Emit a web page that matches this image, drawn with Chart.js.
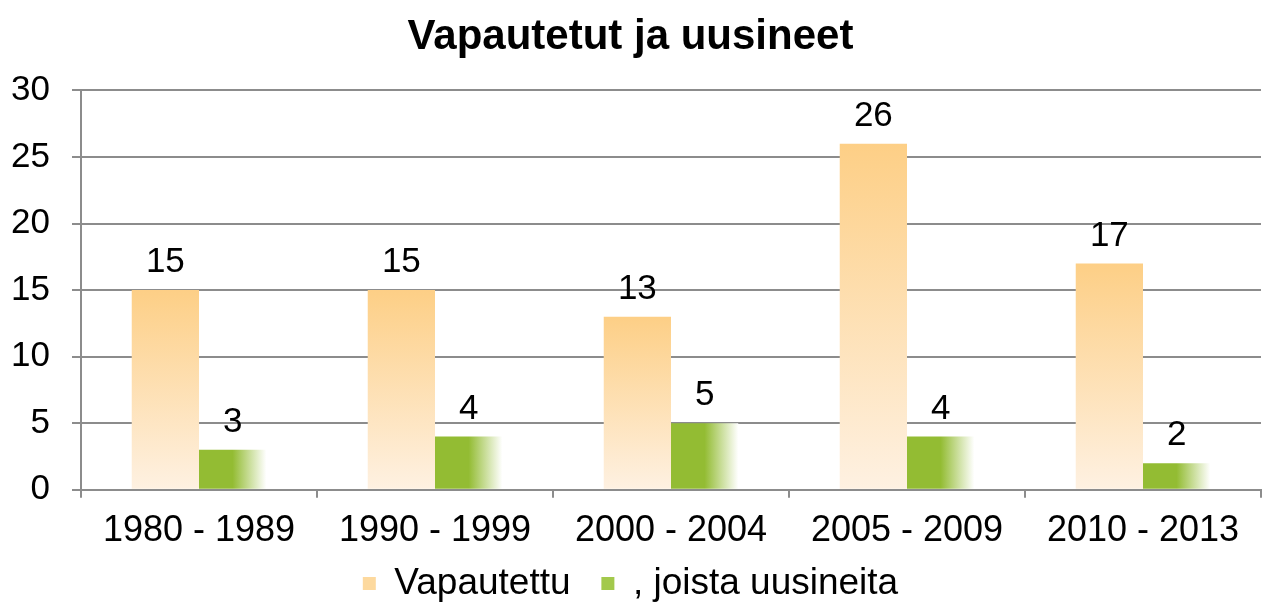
<!DOCTYPE html>
<html>
<head>
<meta charset="utf-8">
<script src="https://cdn.jsdelivr.net/npm/chart.js@4/dist/chart.umd.min.js"></script>
<style>
  html, body { margin: 0; padding: 0; background: #fff; }
  #wrap { width: 1267px; height: 606px; }
</style>
</head>
<body>
<div id="wrap"><canvas id="chart"></canvas></div>
<script>
// Data
const categories = ['1980 - 1989', '1990 - 1999', '2000 - 2004', '2005 - 2009', '2010 - 2013'];
const vapautettu = [15, 15, 13, 26, 17];
const uusineita = [3, 4, 5, 4, 2];
const seriesNames = ['Vapautettu', ', joista uusineita'];
const yTicks = [0, 5, 10, 15, 20, 25, 30];

const CAT_PCT = 0.57;
const FONT = "'Liberation Sans', Arial, sans-serif";
const legendColors = ['#FDD99E', '#A3C94C'];

// orange: vertical gradient per bar, dark at top, pale at bottom
function orangeFill(ctx) {
  const chart = ctx.chart;
  if (!chart.chartArea || ctx.type !== 'data') return legendColors[0];
  const y = chart.scales.y;
  const top = y.getPixelForValue(ctx.raw);
  const bottom = y.getPixelForValue(0);
  const g = chart.ctx.createLinearGradient(0, top, 0, bottom);
  g.addColorStop(0, '#FDCF86');
  g.addColorStop(1, '#FEF1E2');
  return g;
}

// green: horizontal gradient, solid left half fading to white on the right
function greenFill(ctx) {
  const chart = ctx.chart;
  if (!chart.chartArea || ctx.type !== 'data') return legendColors[1];
  const x = chart.scales.x;
  const c = x.getPixelForValue(ctx.dataIndex);
  const w = (x.width / categories.length) * CAT_PCT / 2;
  const g = chart.ctx.createLinearGradient(c, 0, c + w, 0);
  g.addColorStop(0, '#93BC33');
  g.addColorStop(0.5, '#93BC33');
  g.addColorStop(1, '#FFFFFF');
  return g;
}

// value labels above bars
const valueLabels = {
  id: 'valueLabels',
  afterDatasetsDraw(chart) {
    const c = chart.ctx;
    c.save();
    c.font = '35px ' + FONT;
    c.fillStyle = '#000';
    c.textAlign = 'center';
    c.textBaseline = 'bottom';
    chart.data.datasets.forEach((ds, i) => {
      chart.getDatasetMeta(i).data.forEach((bar, j) => {
        c.fillText(String(ds.data[j]), bar.x, bar.y - 10);
      });
    });
    c.restore();
  }
};

new Chart(document.getElementById('chart'), {
  type: 'bar',
  data: {
    labels: categories,
    datasets: [
      {
        label: seriesNames[0],
        data: vapautettu,
        backgroundColor: orangeFill,
        categoryPercentage: CAT_PCT,
        barPercentage: 1,
      },
      {
        label: seriesNames[1],
        data: uusineita,
        backgroundColor: greenFill,
        categoryPercentage: CAT_PCT,
        barPercentage: 1,
      },
    ],
  },
  options: {
    responsive: true,
    maintainAspectRatio: false,
    animation: false,
    layout: { padding: { left: 0, right: 6, top: 0, bottom: -6 } },
    plugins: {
      title: {
        display: true,
        text: 'Vapautetut ja uusineet',
        color: '#000',
        font: { family: FONT, size: 42, weight: 'bold' },
        padding: { top: 12, bottom: 28 },
      },
      legend: {
        position: 'bottom',
        labels: {
          color: '#000',
          font: { family: FONT, size: 37, lineHeight: 1 },
          boxWidth: 13,
          boxHeight: 13,
          padding: 0,
          // trailing spaces give the gap between the two legend items
          generateLabels: (chart) => chart.data.datasets.map((ds, i) => ({
            text: i === 0 ? ds.label + '   ' : ds.label,
            fillStyle: legendColors[i],
            strokeStyle: legendColors[i],
            lineWidth: 0,
            fontColor: '#000',
            datasetIndex: i,
            hidden: false,
          })),
        },
      },
      tooltip: { enabled: false },
    },
    scales: {
      x: {
        grid: {
          drawOnChartArea: false,
          drawTicks: true,
          tickLength: 8,
          color: '#8C8C8C',
          lineWidth: 2,
        },
        border: { color: '#8C8C8C', width: 2 },
        ticks: {
          color: '#000',
          font: { family: FONT, size: 36 },
          padding: 12,
        },
      },
      y: {
        min: 0,
        max: 30,
        afterBuildTicks: (axis) => { axis.ticks = yTicks.map((v) => ({ value: v })); },
        afterFit: (axis) => { axis.width = 81; },
        grid: {
          color: '#8C8C8C',
          lineWidth: 2,
          tickLength: 9,
        },
        border: { color: '#8C8C8C', width: 2 },
        ticks: {
          color: '#000',
          font: { family: FONT, size: 35 },
          padding: 22,
        },
      },
    },
  },
  plugins: [valueLabels],
});
</script>
</body>
</html>
